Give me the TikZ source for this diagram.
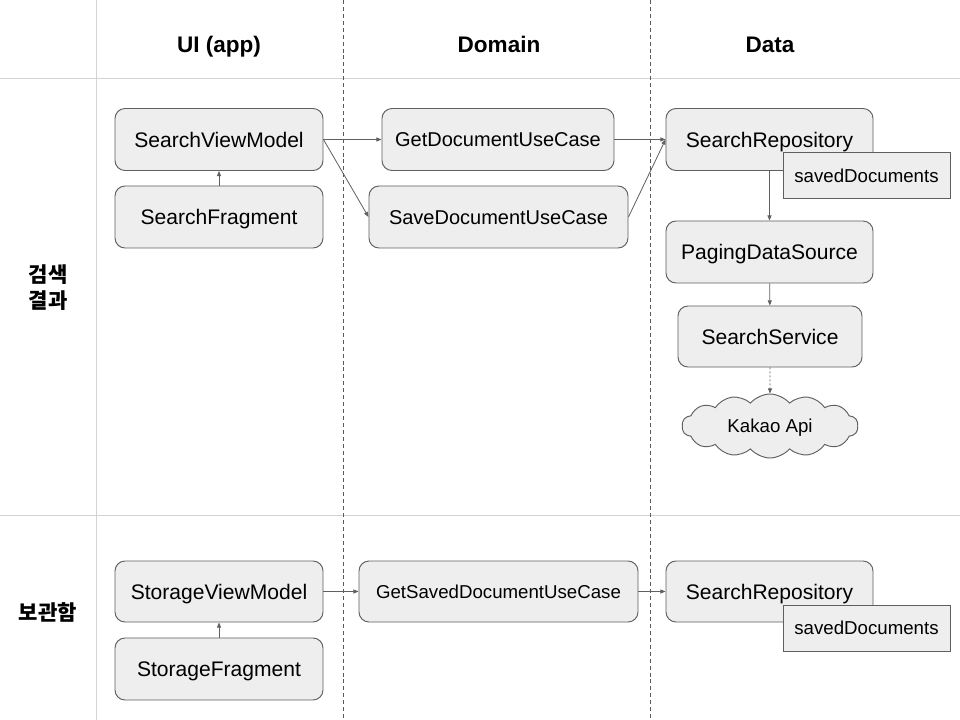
\documentclass[tikz,border=0pt]{standalone}
\usepackage{fontspec}
\setmainfont{Liberation Sans}
\newfontfamily\kr{Noto Sans CJK KR}
\usetikzlibrary{arrows.meta,shapes.symbols}
\definecolor{boxfill}{HTML}{EEEEEE}
\definecolor{boxline}{HTML}{5F5F5F}
\definecolor{gridline}{HTML}{D3D3D3}
\definecolor{dashline}{HTML}{5A5A5A}
\definecolor{arrowc}{HTML}{606060}
\tikzset{
  box/.style={draw=boxline, fill=boxfill, rounded corners=7.5pt, line width=0.7pt,
    inner sep=0pt, minimum height=46.5pt, font=\fontsize{15.8}{19}\selectfont,
    text height=11.3pt, text depth=0pt},
  ucbox/.style={box, font=\fontsize{15}{18}\selectfont, text height=10.75pt},
  smallbox/.style={box, font=\fontsize{14}{17}\selectfont, text height=10pt},
  tagbox/.style={draw=boxline, fill=boxfill, line width=0.7pt, inner sep=0pt,
    minimum width=125.25pt, minimum height=35pt, font=\fontsize{14}{17}\selectfont,
    text height=10pt, text depth=0pt},
  cloudnode/.style={cloud, cloud puffs=14, cloud puff arc=100, cloud ignores aspect,
    draw=boxline, fill=boxfill, line width=0.7pt, minimum width=132pt, minimum height=48pt,
    inner sep=0pt, font=\fontsize{14}{17}\selectfont, text height=10pt, text depth=0pt},
  conn/.style={draw=arrowc, line width=0.6pt, -{Triangle[length=3.8pt,width=3pt]}},
  dconn/.style={conn, dash pattern=on 1.5pt off 1.5pt},
  header/.style={font=\fontsize{16.9}{20}\selectfont\bfseries, text height=12.1pt, text depth=0pt},
  rowlabel/.style={font=\kr\bfseries\fontsize{15.8}{19.5}\selectfont, align=center},
}
\begin{document}
\begin{tikzpicture}[x=0.75pt,y=-0.75pt]
\useasboundingbox[fill=white] (0,0) rectangle (960,720);
% grid
\draw[gridline, line width=0.75pt] (0,79) -- (960,79);
\draw[gridline, line width=0.75pt] (0,515) -- (960,515);
\draw[gridline, line width=0.75pt] (96,0) -- (96,720);
\draw[dashline, line width=0.6pt, dash pattern=on 3pt off 2.2pt] (343,0) -- (343,720);
\draw[dashline, line width=0.6pt, dash pattern=on 3pt off 2.2pt] (650,0) -- (650,720);
% headers
\node[header] (hui) at (219,44) {UI (app)};
\node[header] (hdom) at (499,44) {Domain};
\node[header] (hdata) at (770,44) {Data};
\node[rowlabel] (rsearch) at (48,288) {검색\\결과};
\node[rowlabel] (rstore) at (48,612) {보관함};
% search row
\node[box, minimum width=156pt] (svm) at (219,139.5) {SearchViewModel};
\node[box, minimum width=156pt] (sf) at (219,217) {SearchFragment};
\node[ucbox, minimum width=174pt] (getdoc) at (498,139.5) {GetDocumentUseCase};
\node[ucbox, minimum width=194.25pt] (savedoc) at (498.5,217) {SaveDocumentUseCase};
\node[box, minimum width=155.25pt] (sr) at (769.5,139.5) {SearchRepository};
\node[tagbox] (sd) at (866.5,175.5) {savedDocuments};
\node[box, minimum width=155.25pt] (pds) at (769.5,252) {PagingDataSource};
\node[box, minimum width=138pt, minimum height=45.75pt] (ss) at (770,336.5) {SearchService};
\node[cloudnode] (kakao) at (770,426) {Kakao Api};
% storage row
\node[box, minimum width=156pt, minimum height=45.75pt] (stvm) at (219,591.5) {StorageViewModel};
\node[box, minimum width=156pt] (stf) at (219,669) {StorageFragment};
\node[smallbox, minimum width=209.25pt, minimum height=45.75pt] (getsaved) at (498.5,591.5) {GetSavedDocumentUseCase};
\node[box, minimum width=155.25pt, minimum height=45.75pt] (sr2) at (769.5,591.5) {SearchRepository};
\node[tagbox, minimum height=34.5pt] (sd2) at (866.5,628) {savedDocuments};
% connectors
\draw[conn] (sf) -- (svm);
\draw[conn] (svm.east) -- (getdoc.west);
\draw[conn] (svm.east) -- (savedoc.west);
\draw[conn] (getdoc.east) -- (sr.west);
\draw[conn] (savedoc.east) -- (sr.west);
\draw[conn] (sr.south) -- (pds.north);
\draw[conn] (pds) -- (ss);
\draw[dconn] (ss.south) -- (kakao.north);
\draw[conn] (stf) -- (stvm);
\draw[conn] (stvm) -- (getsaved);
\draw[conn] (getsaved) -- (sr2);
\end{tikzpicture}
\end{document}
